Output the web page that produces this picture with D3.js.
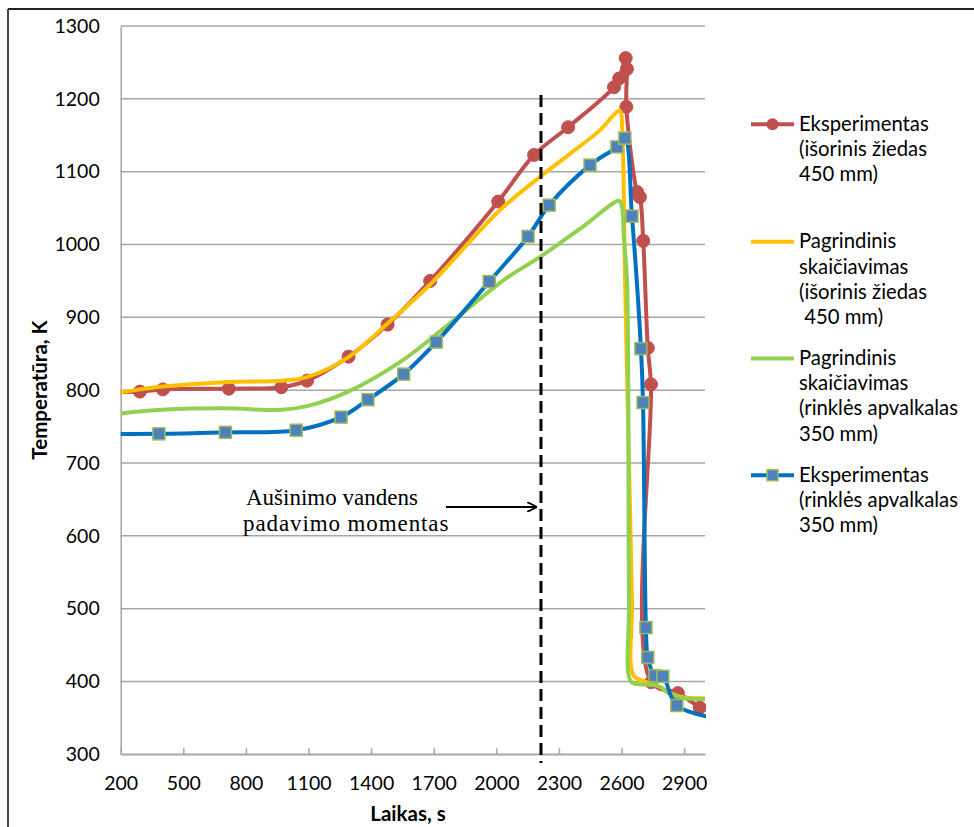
<!DOCTYPE html>
<html>
<head>
<meta charset="utf-8">
<script src="https://cdn.jsdelivr.net/npm/d3@7/dist/d3.min.js"></script>
<style>
  html, body { margin: 0; padding: 0; background: #fff; }
  svg { display: block; }
</style>
</head>
<body>
<svg id="chart" width="974" height="827"></svg>
<script>
// ---------- DATA ----------
const xTicks = [200, 500, 800, 1100, 1400, 1700, 2000, 2300, 2600, 2900];
const yTicks = [300, 400, 500, 600, 700, 800, 900, 1000, 1100, 1200, 1300];

// Eksperimentas (išorinis žiedas 450 mm) — [time s, temperature K]
const expOuter = [
  [100, 797], [292, 798], [402, 801], [718, 802], [970, 804], [1093, 813],
  [1292, 846], [1479, 890], [1683, 950], [2009, 1059], [2181, 1123],
  [2344, 1161], [2564, 1216], [2589, 1228], [2620, 1256], [2626, 1241],
  [2623, 1189], [2675, 1072], [2688, 1065], [2704, 1005], [2726, 858],
  [2741, 808], [2742, 399], [2870, 384], [2975, 364]
];
// Pagrindinis skaičiavimas (išorinis žiedas 450 mm)
const calcOuter = [
  [200, 797], [400, 805], [700, 811], [970, 813], [1093, 818], [1290, 845],
  [1480, 892], [1683, 945], [2009, 1045], [2210, 1093], [2337, 1121],
  [2497, 1157], [2582, 1183], [2594, 1183], [2604, 1150], [2617, 952],
  [2650, 513], [2658, 408], [2712, 400], [2780, 393], [2832, 384],
  [2900, 378], [3000, 377]
];
// Pagrindinis skaičiavimas (rinklės apvalkalas 350 mm)
const calcShell = [
  [200, 768], [400, 773], [700, 775], [970, 773], [1093, 778], [1290, 798],
  [1556, 842], [1779, 892], [2050, 954], [2210, 983], [2417, 1025],
  [2588, 1060], [2600, 1055], [2612, 1006], [2626, 952], [2636, 513],
  [2645, 400], [2688, 396], [2774, 394], [2832, 383], [2900, 377],
  [3000, 376]
];
// Eksperimentas (rinklės apvalkalas 350 mm)
const expShell = [
  [100, 740], [383, 740], [702, 742], [1041, 745], [1256, 763], [1385, 787],
  [1556, 822], [1712, 866], [1966, 949], [2152, 1011], [2253, 1054],
  [2449, 1109], [2578, 1134], [2616, 1146], [2650, 1039], [2693, 857],
  [2703, 783], [2717, 474], [2726, 433], [2760, 408], [2798, 407],
  [2865, 367], [3100, 347]
];

const legendLabels = [
  ["Eksperimentas", "(išorinis žiedas", "450 mm)"],
  ["Pagrindinis", "skaičiavimas", "(išorinis žiedas", " 450 mm)"],
  ["Pagrindinis", "skaičiavimas", "(rinklės apvalkalas", "350 mm)"],
  ["Eksperimentas", "(rinklės apvalkalas", "350 mm)"]
];
const xTitle = "Laikas, s";
const yTitle = "Temperatūra, K";
const noteLines = ["Aušinimo vandens", "padavimo momentas"];
const coolingTime = 2214;

// ---------- LAYOUT ----------
const svg = d3.select("#chart");
const plot = { left: 120.7, right: 705, top: 26, bottom: 754.3 };
const x = d3.scaleLinear().domain([200, 3000]).range([plot.left, plot.right]);
const y = d3.scaleLinear().domain([300, 1300]).range([plot.bottom, plot.top]);
const sans = "Lato, 'Open Sans', sans-serif";
const gridColor = "#a6a6a6";
const fmt = d3.format("d");

// outer frame
svg.append("line").attr("x1", 8).attr("x2", 974).attr("y1", 9).attr("y2", 9)
  .attr("stroke", "#222").attr("stroke-width", 2);
svg.append("line").attr("x1", 8).attr("x2", 8).attr("y1", 9).attr("y2", 827)
  .attr("stroke", "#444").attr("stroke-width", 2);

// gridlines
svg.append("g").selectAll("line").data(yTicks).join("line")
  .attr("x1", plot.left).attr("x2", plot.right)
  .attr("y1", d => y(d)).attr("y2", d => y(d))
  .attr("stroke", gridColor).attr("stroke-width", 1.5);

// x axis
const xAxis = svg.append("g").attr("transform", `translate(0,${plot.bottom})`)
  .call(d3.axisBottom(x).tickValues(xTicks).tickFormat(fmt).tickSizeInner(-6).tickSizeOuter(0).tickPadding(22));
xAxis.select(".domain").attr("stroke", gridColor).attr("stroke-width", 1.5);
xAxis.selectAll(".tick line").attr("stroke", gridColor).attr("stroke-width", 1.5);
xAxis.selectAll(".tick text").attr("font-family", sans).attr("font-size", 19.5).attr("fill", "#000");

// y axis
const yAxis = svg.append("g").attr("transform", `translate(${plot.left},0)`)
  .call(d3.axisLeft(y).tickValues(yTicks).tickFormat(fmt).tickSize(0).tickPadding(21));
yAxis.select(".domain").attr("stroke", gridColor).attr("stroke-width", 1.5);
yAxis.selectAll(".tick text").attr("font-family", sans).attr("font-size", 19.5).attr("fill", "#000");

// axis titles
svg.append("text").attr("x", 408).attr("y", 821).attr("text-anchor", "middle")
  .attr("font-family", sans).attr("font-weight", "bold").attr("font-size", 20.5).text(xTitle);
svg.append("text").attr("transform", "translate(47,390) rotate(-90)").attr("text-anchor", "middle")
  .attr("font-family", sans).attr("font-weight", "bold").attr("font-size", 20.5).text(yTitle);

// clip
svg.append("clipPath").attr("id", "plotclip").append("rect")
  .attr("x", plot.left).attr("y", plot.top - 10)
  .attr("width", plot.right - plot.left + 1).attr("height", plot.bottom - plot.top + 10);

const line = d3.line().x(d => x(d[0])).y(d => y(d[1])).curve(d3.curveCatmullRom.alpha(0.5));
const series = [
  { data: expOuter, color: "#c0504d", marker: "circle" },
  { data: calcOuter, color: "#ffc000", marker: null },
  { data: calcShell, color: "#92d050", marker: null },
  { data: expShell, color: "#0070c0", marker: "square" }
];

const g = svg.append("g").attr("clip-path", "url(#plotclip)");
series.forEach(s => {
  g.append("path").datum(s.data).attr("d", line).attr("fill", "none")
    .attr("stroke", s.color).attr("stroke-width", 4).attr("stroke-linejoin", "round");
  const inRange = s.data.filter(d => d[0] >= 200 && d[0] <= 3000);
  if (s.marker === "circle") {
    g.selectAll(null).data(inRange).join("circle")
      .attr("cx", d => x(d[0])).attr("cy", d => y(d[1])).attr("r", 6.5)
      .attr("fill", "#c0504d").attr("stroke", "#c0504d").attr("stroke-width", 1);
  } else if (s.marker === "square") {
    g.selectAll(null).data(inRange).join("rect")
      .attr("x", d => x(d[0]) - 6).attr("y", d => y(d[1]) - 6)
      .attr("width", 12).attr("height", 12)
      .attr("fill", "#4f81bd").attr("stroke", "#9bbb59").attr("stroke-width", 1.5);
  }
});

// cooling moment dashed line
svg.append("line").attr("x1", x(coolingTime)).attr("x2", x(coolingTime))
  .attr("y1", 95).attr("y2", 763)
  .attr("stroke", "#000").attr("stroke-width", 3).attr("stroke-dasharray", "12,6");

// annotation
const serif = "'Liberation Serif', 'Times New Roman', serif";
svg.append("text").attr("x", 246).attr("y", 505).attr("font-family", serif).attr("font-size", 23).text(noteLines[0]);
svg.append("text").attr("x", 243).attr("y", 531).attr("font-family", serif).attr("font-size", 23)
  .attr("letter-spacing", 0.9).text(noteLines[1]);
svg.append("defs").append("marker").attr("id", "arrow").attr("viewBox", "0 0 10 10")
  .attr("refX", 10).attr("refY", 5).attr("markerWidth", 10).attr("markerHeight", 10)
  .attr("markerUnits", "userSpaceOnUse").attr("orient", "auto")
  .append("path").attr("d", "M0,0 L10,5 L0,10").attr("fill", "none").attr("stroke", "#000").attr("stroke-width", 1.8);
svg.append("line").attr("x1", 446).attr("x2", 537).attr("y1", 507).attr("y2", 507)
  .attr("stroke", "#000").attr("stroke-width", 2).attr("marker-end", "url(#arrow)");

// legend
const legendTop = [130.7, 248.3, 365, 481.7];
const lg = svg.append("g");
series.forEach((s, i) => {
  const by = legendTop[i];
  lg.append("line").attr("x1", 751).attr("x2", 794).attr("y1", by - 6.5).attr("y2", by - 6.5)
    .attr("stroke", s.color).attr("stroke-width", 4);
  if (s.marker === "circle") {
    lg.append("circle").attr("cx", 772.5).attr("cy", by - 6.5).attr("r", 6).attr("fill", "#c0504d");
  } else if (s.marker === "square") {
    lg.append("rect").attr("x", 767).attr("y", by - 12).attr("width", 11).attr("height", 11)
      .attr("fill", "#4f81bd").attr("stroke", "#9bbb59").attr("stroke-width", 1.5);
  }
  legendLabels[i].forEach((t, j) => {
    lg.append("text").attr("x", 799).attr("y", by + j * 25.2)
      .attr("font-family", sans).attr("font-size", 20.3).attr("xml:space", "preserve")
      .style("white-space", "pre").text(t);
  });
});
</script>
</body>
</html>
